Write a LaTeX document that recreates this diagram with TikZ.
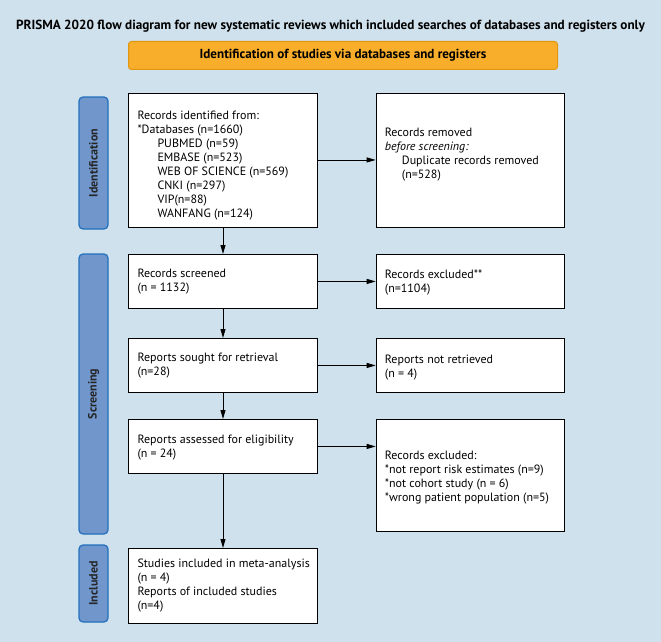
\documentclass[tikz,border=0pt]{standalone}
\usepackage{fontspec}
\setmainfont{PT Sans}
\usetikzlibrary{arrows.meta}
\definecolor{bg}{HTML}{CFE1ED}
\definecolor{bandfill}{HTML}{7096CC}
\definecolor{bandline}{HTML}{2170BE}
\definecolor{orangefill}{HTML}{F9AE2B}
\definecolor{orangeline}{HTML}{E0960F}
\tikzset{
  x=1pt, y=-1pt,
  box/.style={draw=black, line width=0.9pt, fill=white, minimum width=188.5pt, inner sep=0pt, anchor=north west},
  txt/.style={font=\fontsize{12}{14}\selectfont, align=left, anchor=west, inner sep=0pt},
  band/.style={draw=bandline, line width=1.2pt, fill=bandfill, rounded corners=4pt},
  bandlabel/.style={rotate=90, font=\fontsize{12}{14}\selectfont\bfseries, text=black!85},
  arr/.style={-{Triangle[length=9pt,width=5pt]}, line width=0.9pt},
}
\newcommand{\ind}{\hspace*{20pt}}
\newcommand{\indr}{\hspace*{17pt}}
\begin{document}
\begin{tikzpicture}
\fill[bg] (0,0) rectangle (661,642);
\useasboundingbox (0,0) rectangle (661,642);
\node[font=\fontsize{13.2}{15}\selectfont\bfseries] (title) at (330.5,26) {PRISMA 2020 flow diagram for new systematic reviews which included searches of databases and registers only};
\node[draw=orangeline, fill=orangefill, line width=1pt, rounded corners=3pt, minimum width=429pt, minimum height=28pt, font=\fontsize{13.1}{15}\selectfont\bfseries, anchor=north west] (hdr) at (128,41) {Identification of studies via databases and registers};
% bands
\draw[band] (79,97) rectangle (108,229);
\node[bandlabel] (bid) at (93.5,163) {Identification};
\draw[band] (79,254) rectangle (108,534);
\node[bandlabel] (bsc) at (93.5,394) {Screening};
\draw[band] (79,545) rectangle (108,622);
\node[bandlabel] (bin) at (93.5,583.5) {Included};
% left column boxes
\node[box, minimum height=134pt] (b1) at (128.3,92.5) {};
\node[box, minimum height=54pt] (b2) at (128.3,254) {};
\node[box, minimum height=54pt] (b3) at (128.3,338) {};
\node[box, minimum height=54pt] (b4) at (128.3,419) {};
\node[box, minimum height=75pt] (b5) at (128.3,548) {};
% right column boxes
\node[box, minimum height=134pt] (r1) at (375.7,92.5) {};
\node[box, minimum height=54pt] (r2) at (375.7,254) {};
\node[box, minimum height=54pt] (r3) at (375.7,338) {};
\node[box, minimum height=112pt] (r4) at (375.7,419) {};
% texts
\node[txt] (t1) at ([xshift=9pt,yshift=-6pt]b1.west) {Records identified from:\\{}*Databases (n=1660)\\\ind PUBMED (n=59)\\\ind EMBASE (n=523)\\\ind WEB OF SCIENCE (n=569)\\\ind CNKI (n=297)\\\ind VIP(n=88)\\\ind WANFANG (n=124)};
\node[txt] (t2) at ([xshift=9pt]b2.west) {Records screened\\(n = 1132)};
\node[txt] (t3) at ([xshift=9pt]b3.west) {Reports sought for retrieval\\(n=28)};
\node[txt] (t4) at ([xshift=9pt,yshift=-1pt]b4.west) {Reports assessed for eligibility\\(n = 24)};
\node[txt] (t5) at ([xshift=9pt]b5.west) {Studies included in meta-analysis\\(n = 4)\\Reports of included studies\\(n=4)};
\node[txt] (u1) at ([xshift=9pt,yshift=5pt]r1.west) {Records removed\\\textit{before screening:}\\\indr Duplicate records removed\\\indr (n=528)};
\node[txt] (u2) at ([xshift=9pt,yshift=-1.5pt]r2.west) {Records excluded**\\(n=1104)};
\node[txt] (u3) at ([xshift=9pt,yshift=-2.5pt]r3.west) {Reports not retrieved\\(n = 4)};
\node[txt] (u4) at ([xshift=9pt,yshift=-2pt]r4.west) {Records excluded:\\{}*not report risk estimates (n=9)\\{}*not cohort study (n = 6)\\{}*wrong patient population (n=5)};
% arrows
\draw[arr] (b1.south) -- (b2.north);
\draw[arr] (b2.south) -- (b3.north);
\draw[arr] (b3.south) -- (b4.north);
\draw[arr] (b4.south) -- (b5.north);
\draw[arr] (b1.east) -- (r1.west);
\draw[arr] (b2.east) -- (b2.east -| r2.west);
\draw[arr] (b3.east) -- (b3.east -| r3.west);
\draw[arr] (b4.east) -- (b4.east -| r4.west);
\end{tikzpicture}
\end{document}
